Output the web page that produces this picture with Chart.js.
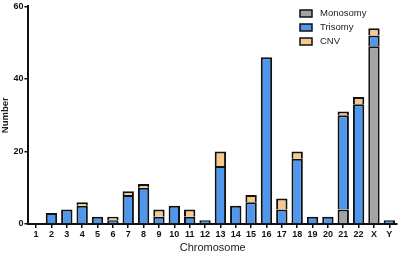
<!DOCTYPE html>
<html>
<head>
<meta charset="utf-8">
<script src="https://cdn.jsdelivr.net/npm/chart.js@4/dist/chart.umd.min.js"></script>
<style>
  html, body { margin: 0; padding: 0; background: #fff; }
  #wrap { width: 400px; height: 255px; }
</style>
</head>
<body>
<div id="wrap"><canvas id="chromChart"></canvas></div>
<script>
// Data
const chromosomes = ['1','2','3','4','5','6','7','8','9','10','11','12','13','14','15','16','17','18','19','20','21','22','X','Y'];
const monosomy = [0,0,0,0,0,0,0,0,0,0,0,0,0,0,0,0,0,0,0,0,4,0,49,0];
const trisomy  = [0,3,4,5,2,1,8,10,2,5,2,1,16,5,6,46,4,18,2,2,26,33,3,1];
const cnv      = [0,0,0,1,0,1,1,1,2,0,2,0,4,0,2,0,3,2,0,0,1,2,2,0];
const yTicks = [0, 20, 40, 60];

const edge = '#111';

// draws the small boxed legend in the top right corner
const boxLegend = {
    id: 'boxLegend',
    afterDraw(chart) {
        const c = chart.ctx;
        const x0 = 300, y0 = 13, gap = 14;
        c.save();
        c.font = '9.5px "Liberation Sans", Arial, sans-serif';
        c.textBaseline = 'middle';
        chart.data.datasets.forEach(function (ds, i) {
            const y = y0 + i * gap;
            c.fillStyle = ds.backgroundColor;
            c.fillRect(x0, y - 3, 12, 7);
            c.lineWidth = 1.5;
            c.strokeStyle = edge;
            c.strokeRect(x0, y - 3, 12, 7);
            c.fillStyle = '#222';
            c.fillText(ds.label, x0 + 20, y + 0.5);
        });
        c.restore();
    }
};

const ctx = document.getElementById('chromChart').getContext('2d');
const chromChart = new Chart(ctx, {
    type: 'bar',
    data: {
        labels: chromosomes,
        datasets: [
            { label: 'Monosomy', data: monosomy, backgroundColor: '#a3a3a3' },
            { label: 'Trisomy', data: trisomy, backgroundColor: '#4f97ec' },
            { label: 'CNV', data: cnv, backgroundColor: '#f8c98c' }
        ].map(function (ds) {
            ds.borderColor = edge;
            // top + sides only, so stacked segments share one dividing line
            ds.borderWidth = function (c) {
                return c.raw ? { top: 2, left: 2, right: 2, bottom: 0 } : 0;
            };
            ds.borderSkipped = false;
            ds.categoryPercentage = 1;
            ds.barPercentage = 0.74;
            return ds;
        })
    },
    options: {
        responsive: true,
        maintainAspectRatio: false,
        animation: false,
        layout: { padding: { top: 1, right: 3, left: 0, bottom: 0 } },
        plugins: {
            legend: { display: false },
            tooltip: { enabled: false }
        },
        scales: {
            x: {
                stacked: true,
                border: { display: true, color: edge, width: 2 },
                grid: { display: true, drawOnChartArea: false, drawTicks: true, tickLength: 4, color: edge, lineWidth: 1.5, offset: false },
                ticks: { color: '#111', padding: 1, maxRotation: 0, autoSkip: false,
                         font: { family: '"Liberation Sans", Arial, sans-serif', size: 9, weight: 'bold' } },
                title: { display: true, text: 'Chromosome', color: '#222', padding: { top: 1, bottom: 0 },
                         font: { family: '"Liberation Sans", Arial, sans-serif', size: 11 } }
            },
            y: {
                stacked: true,
                min: 0,
                max: 60,
                afterBuildTicks: function (axis) {
                    axis.ticks = yTicks.map(function (v) { return { value: v }; });
                },
                border: { display: true, color: edge, width: 2 },
                grid: { display: true, drawOnChartArea: false, drawTicks: true, tickLength: 4, color: edge, lineWidth: 1.5 },
                ticks: { color: '#111', padding: 1,
                         font: { family: '"Liberation Sans", Arial, sans-serif', size: 9, weight: 'bold' } },
                title: { display: true, text: 'Number', color: '#222', padding: { top: 0, bottom: 1 },
                         font: { family: '"Liberation Sans", Arial, sans-serif', size: 9.5, weight: 'bold' } }
            }
        }
    },
    plugins: [boxLegend]
});
</script>
</body>
</html>
